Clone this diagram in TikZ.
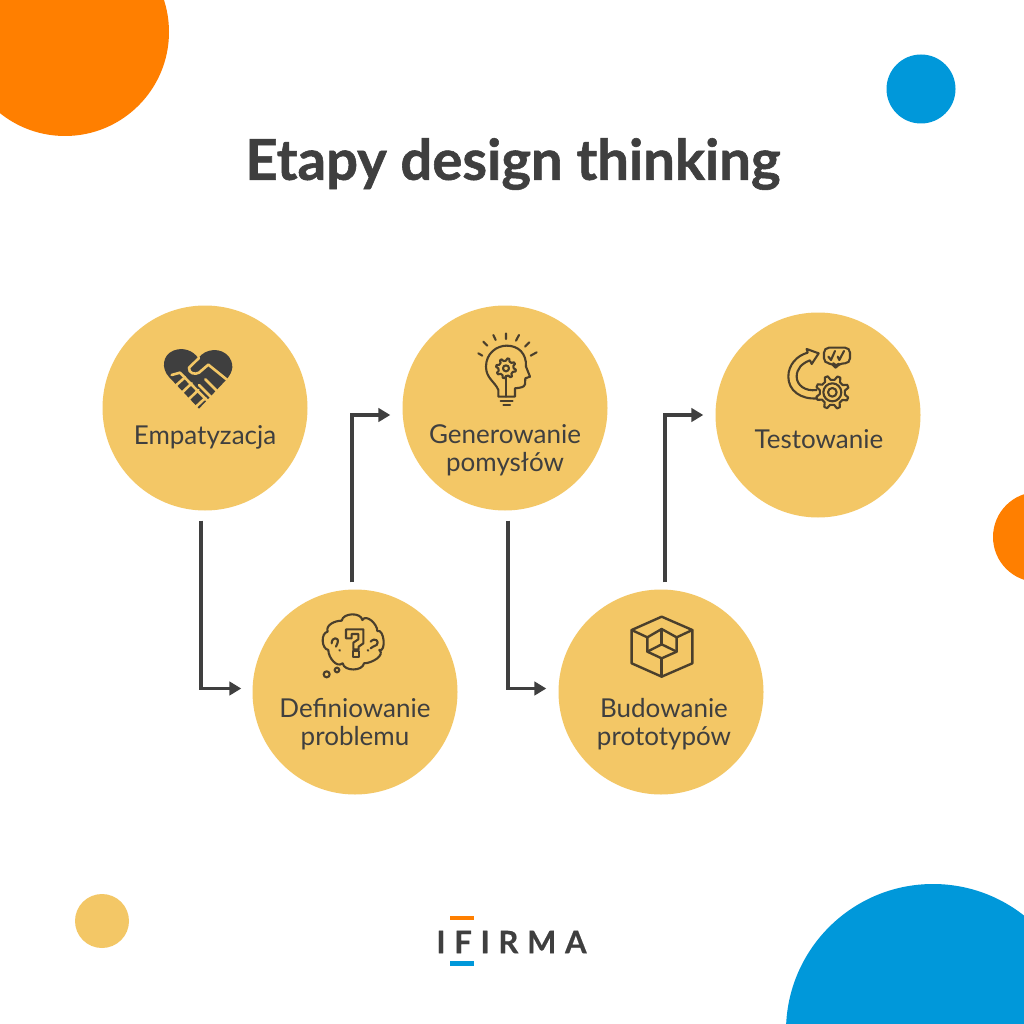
\documentclass[tikz,border=0pt]{standalone}
\usepackage{fontspec}
\setmainfont{Lato}
\newfontfamily\titlefont[BoldFeatures={FakeBold=1}]{Lato}
\newfontfamily\logofont[LetterSpace=28,BoldFeatures={FakeBold=0.5}]{Lato}
\usetikzlibrary{arrows.meta,calc}
\definecolor{cOrange}{HTML}{FF7F00}
\definecolor{cBlue}{HTML}{0098DA}
\definecolor{cYellow}{HTML}{F3C766}
\definecolor{cDark}{HTML}{3F3F3F}
\definecolor{cIcon}{HTML}{4A3F2C}
\tikzset{
  stage/.style={circle,fill=cYellow,minimum size=205pt,inner sep=0pt},
  stagelabel/.style={align=center,text=cDark,font=\fontsize{26}{28}\selectfont},
  flow/.style={draw=cDark,line width=3.4pt,-{Triangle[length=12pt,width=13.5pt]}},
  iconline/.style={draw=cIcon,line width=2.1pt,line join=round,line cap=round},
  zoomA/.style={x=0.3333pt,y=-0.3333pt},
}
\newcommand{\gearpath}[6]{% cx cy outer inner teeth rot
  (#1,#2) ++(#6:#4)
  \foreach \k in {1,...,#5}{
    -- ($(#1,#2)+(#6+360*\k/#5-360/#5+360/#5*0.18:#3)$)
    -- ($(#1,#2)+(#6+360*\k/#5-360/#5+360/#5*0.42:#3)$)
    -- ($(#1,#2)+(#6+360*\k/#5-360/#5+360/#5*0.60:#4)$)
    -- ($(#1,#2)+(#6+360*\k/#5:#4)$)
  } -- cycle}
\begin{document}
\begin{tikzpicture}[x=1pt,y=-1pt]
\useasboundingbox (0,0) rectangle (1024,1024);
\fill[white] (0,0) rectangle (1024,1024);
\begin{scope}
\clip (0,0) rectangle (1024,1024);
\fill[cOrange] (65,32) circle[radius=104];
\fill[cBlue] (921,89) circle[radius=34.5];
\fill[cOrange] (1038,537) circle[radius=45];
\fill[cYellow] (102,921) circle[radius=27];
\fill[cBlue] (933,1031) circle[radius=147];
\end{scope}

\node[text=cDark,font=\titlefont\fontsize{56.2}{60}\selectfont\bfseries] (title) at (513,164) {Etapy design thinking};

\node[stage] (emp) at (205,408) {};
\node[stage] (def) at (355,692) {};
\node[stage] (gen) at (505,408) {};
\node[stage] (bud) at (661,692) {};
\node[stage] (tes) at (818,415) {};

\node[stagelabel] (empL) at (205,437) {Empatyzacja};
\node[stagelabel] (defL) at (355,724) {Definiowanie\\problemu};
\node[stagelabel] (genL) at (505,450) {Generowanie\\pomysłów};
\node[stagelabel] (budL) at (664,724) {Budowanie\\prototypów};
\node[stagelabel] (tesL) at (819,439.5) {Testowanie};

\coordinate (a1) at ($(emp.south)+(-4,10)$);
\coordinate (a2) at ($(def.west)+(-11,-3.5)$);
\coordinate (b1) at ($(def.north)+(-3,-7)$);
\coordinate (b2) at ($(gen.west)+(-12,7)$);
\coordinate (c1) at ($(gen.south)+(3,10)$);
\coordinate (c2) at ($(bud.west)+(-12,-3.5)$);
\coordinate (d1) at ($(bud.north)+(4,-7)$);
\coordinate (d2) at ($(tes.west)+(-12,0)$);
\draw[flow] (a1) |- (a2);
\draw[flow] (b1) |- (b2);
\draw[flow] (c1) |- (c2);
\draw[flow] (d1) |- (d2);

% heart
\begin{scope}[shift={(130,330)},zoomA]
\fill[cDark] (207,236) -- (118,142) .. controls (92,115) and (98,75) .. (130,62) .. controls (160,50) and (190,62) .. (205,85) .. controls (225,55) and (275,50) .. (298,82) .. controls (318,112) and (300,135) .. (290,148) -- cycle;
\begin{scope}[line width=2.6pt,line cap=round,line join=round]
\draw[cYellow] (207,84) -- (177,113) .. controls (175,130) and (195,135) .. (207,128) -- (235,104) -- (292,150);
\draw[cYellow] (125,135) -- (150,128) -- (215,195) -- (232,212);
\draw[cYellow] (136,168) -- (165,142);
\draw[cYellow] (156,188) -- (185,160);
\draw[cYellow] (176,208) -- (205,180);
\draw[cYellow] (196,232) -- (226,204);
\draw[cYellow] (207,165) -- (245,203);
\draw[cYellow] (226,148) -- (262,184);
\end{scope}
\end{scope}

% thought cloud
\begin{scope}[shift={(300,600)},zoomA,iconline]
\draw (83,95) to[out=110,in=180] (125,62) to[out=80,in=100] (187,60) to[out=60,in=90] (232,93)
 to[out=20,in=-20] (238,150) to[out=-40,in=0] (192,190) to[out=-100,in=-80] (128,190) to[out=-140,in=-90] (85,150) to[out=170,in=190] (83,95);
\draw (138,88) -- (190,88) -- (190,130) -- (176,140) -- (176,148) -- (160,148) -- (160,128) -- (175,118) -- (175,102) -- (155,102) -- (155,115) -- (138,115) -- cycle;
\draw (160,153) rectangle (177,170);
\draw (95,130) .. controls (95,110) and (118,110) .. (113,128) .. controls (110,135) and (108,135) .. (108,140);
\draw (118,150) -- (120,152);
\draw (212,125) .. controls (225,110) and (240,125) .. (230,135) .. controls (222,140) and (215,140) .. (212,145);
\draw (203,150) -- (205,152);
\draw (80,223) circle[radius=9];
\draw (111,210) circle[radius=7];
\end{scope}

% bulb
\begin{scope}[shift={(460,325)},zoomA,iconline]
\draw (55,85)--(67,92) (70,50)--(82,62) (100,30)--(107,45) (138,25)--(138,42) (177,30)--(168,47) (208,52)--(195,65) (230,82)--(212,92);
\draw (115,215) -- (115,195) .. controls (105,170) and (78,160) .. (78,125) .. controls (78,85) and (110,62) .. (140,62) .. controls (175,62) and (200,85) .. (198,125) -- (210,155) -- (196,160) -- (195,178) .. controls (192,188) and (180,188) .. (165,190) -- (165,215) -- cycle;
\draw (122,228) -- (158,228);
\draw (130,241) -- (150,241);
\draw \gearpath{138}{130}{30}{23}{8}{0};
\draw (138,130) circle[radius=9];
\draw (138,154) -- (138,215);
\end{scope}

% test
\begin{scope}[shift={(770,335)},zoomA,iconline]
\draw (145,190) .. controls (90,195) and (55,165) .. (55,125) .. controls (55,90) and (80,62) .. (113,53) -- (110,42) -- (146,55) -- (125,87) -- (120,76) .. controls (95,85) and (80,102) .. (80,125) .. controls (80,150) and (105,170) .. (140,165);
\draw[rounded corners=5pt] (162,38) -- (240,38) -- (240,85) -- (208,85) -- (197,98) -- (190,85) -- (162,85) -- cycle;
\draw (175,65) -- (183,75) -- (195,48);
\draw (203,65) -- (208,75) -- (222,48);
\fill[cYellow] (187,172) circle[radius=40];
\draw[fill=cYellow] \gearpath{187}{172}{50}{38}{8}{10};
\draw (187,172) circle[radius=27];
\draw (187,172) circle[radius=13];
\end{scope}

% cube
\begin{scope}[shift={(615,605)},zoomA,iconline,line width=2.4pt]
\draw (140,35) -- (232,75) -- (232,175) -- (140,215) -- (50,175) -- (50,75) -- cycle;
\draw (50,75) -- (97,97) -- (140,72) -- (185,97) -- (232,75);
\draw (140,72) -- (140,118);
\draw (97,97) -- (97,140) -- (140,160) -- (185,140) -- (185,97);
\draw (97,140) -- (140,118) -- (185,140);
\draw (140,160) -- (140,215);
\end{scope}

% logo
\node[text=cDark,font=\logofont\fontsize{31}{31}\selectfont\bfseries,anchor=center] (logo) at (511.5,942) {IFIRMA};
\fill[cOrange] (450,916) rectangle (474,920);
\fill[cBlue] (450,961) rectangle (474,966);
\end{tikzpicture}
\end{document}
